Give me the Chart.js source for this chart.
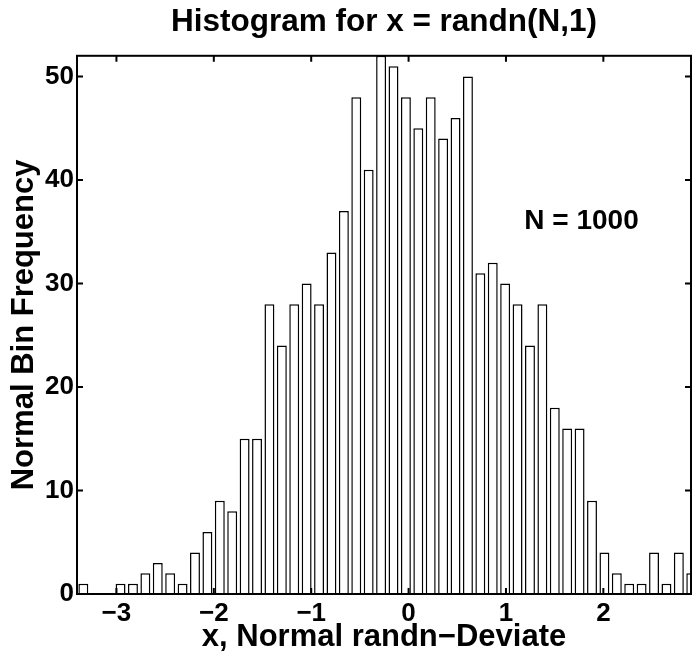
<!DOCTYPE html>
<html>
<head>
<meta charset="utf-8">
<title>Histogram for x = randn(N,1)</title>
<script src="https://cdn.jsdelivr.net/npm/chart.js@4/dist/chart.umd.min.js"></script>
<style>
  html, body { margin: 0; padding: 0; background: #fff; }
  canvas { display: block; }
</style>
</head>
<body>
<canvas id="histChart" width="692" height="653"></canvas>
<script>
// Histogram data (50 bins)
const binStart = -3.340;   // centre of the first bin
const binWidth = 0.1274;
const binCounts = [
  1, 0, 0, 1, 1, 2, 3, 2, 1, 4,
  6, 9, 8, 15, 15, 28, 24, 28, 30, 28,
  33, 37, 48, 41, 52, 51, 48, 45, 48, 44,
  46, 50, 31, 32, 30, 28, 24, 28, 18, 16,
  16, 9, 4, 2, 1, 1, 4, 1, 4, 2
];
const xTicks = [-3, -2, -1, 0, 1, 2];
const yTicks = [0, 10, 20, 30, 40, 50];
const xRange = [-3.405, 2.90];
const yRange = [0, 52];
const sampleSize = 1000;

// Bin centres from the bin edges
const binCenters = binCounts.map((c, i) => binStart + i * binWidth);

const FONT = "'Liberation Sans', Arial, Helvetica, sans-serif";
Chart.defaults.font.family = FONT;
Chart.defaults.font.weight = 'bold';
Chart.defaults.color = '#000';

// Box around the axes with inward tick marks, plus the N label
const boxPlugin = {
  id: 'matlabBox',
  afterDatasetsDraw(chart) {
    const { ctx, chartArea: a, scales } = chart;
    const tl = 6;
    ctx.save();
    ctx.strokeStyle = '#000';
    ctx.lineWidth = 2;
    ctx.strokeRect(a.left, a.top, a.right - a.left, a.bottom - a.top);
    ctx.beginPath();
    xTicks.forEach(v => {
      const px = scales.x.getPixelForValue(v);
      ctx.moveTo(px, a.bottom); ctx.lineTo(px, a.bottom - tl);
      ctx.moveTo(px, a.top); ctx.lineTo(px, a.top + tl);
    });
    yTicks.forEach(v => {
      const py = scales.y.getPixelForValue(v);
      ctx.moveTo(a.left, py); ctx.lineTo(a.left + tl, py);
      ctx.moveTo(a.right, py); ctx.lineTo(a.right - tl, py);
    });
    ctx.stroke();

    // annotation
    ctx.fillStyle = '#000';
    ctx.font = 'bold 28px ' + FONT;
    ctx.textAlign = 'center';
    ctx.textBaseline = 'middle';
    ctx.fillText('N = ' + sampleSize, scales.x.getPixelForValue(1.776), scales.y.getPixelForValue(36));
    ctx.restore();
  }
};

const ctx = document.getElementById('histChart').getContext('2d');
new Chart(ctx, {
  type: 'bar',
  data: {
    datasets: [{
      data: binCenters.map((c, i) => ({ x: c, y: binCounts[i] })),
      backgroundColor: '#fff',
      borderColor: '#000',
      borderWidth: 1.5,
      categoryPercentage: 1.0,
      barPercentage: 0.8
    }]
  },
  options: {
    responsive: false,
    devicePixelRatio: 1,
    animation: false,
    layout: { padding: { left: 0, right: 1, top: 0, bottom: 0 } },
    plugins: {
      legend: { display: false },
      tooltip: { enabled: false },
      title: {
        display: true,
        fullSize: false,   // centre over the axes like MATLAB
        text: 'Histogram for x = randn(N,1)',
        font: { size: 31.5, weight: 'bold', lineHeight: 1.2 },
        color: '#000',
        padding: { top: 3, bottom: 15 }
      }
    },
    scales: {
      x: {
        type: 'linear',
        offset: false,
        min: xRange[0],
        max: xRange[1],
        grid: { display: false, drawTicks: false, offset: false },
        border: { display: false },
        afterBuildTicks: scale => { scale.ticks = xTicks.map(v => ({ value: v })); },
        afterFit: scale => { scale.height = 59; },
        ticks: {
          font: { size: 26, weight: 'bold' },
          color: '#000',
          padding: 4,
          maxRotation: 0,
          callback: v => String(v).replace('-', '\u2212')
        },
        title: {
          display: true,
          text: 'x, Normal randn\u2212Deviate',
          font: { size: 31, weight: 'bold', lineHeight: 1.0 },
          color: '#000',
          padding: { top: 0, bottom: 0 }
        }
      },
      y: {
        min: yRange[0],
        max: yRange[1],
        grid: { display: false, drawTicks: false },
        border: { display: false },
        afterBuildTicks: scale => { scale.ticks = yTicks.map(v => ({ value: v })); },
        afterFit: scale => { scale.width = 77; },
        ticks: {
          font: { size: 26, weight: 'bold' },
          color: '#000',
          padding: 3
        },
        title: {
          display: true,
          text: 'Normal Bin Frequency',
          font: { size: 31, weight: 'bold', lineHeight: 1.2 },
          color: '#000',
          padding: { top: 6, bottom: 0 }
        }
      }
    }
  },
  plugins: [boxPlugin]
});
</script>
</body>
</html>
